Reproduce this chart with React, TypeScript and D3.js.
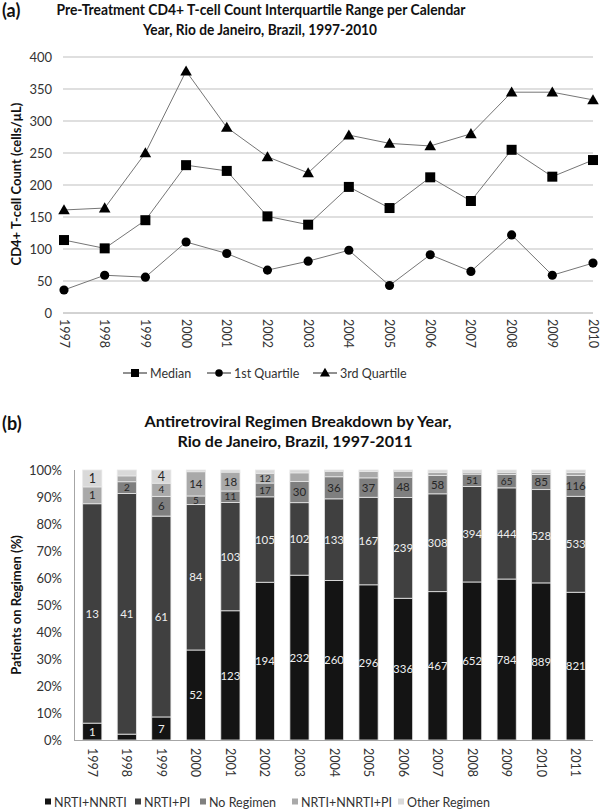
import React from "react";
import * as d3 from "d3";

// ---------- Panel (a) data ----------
const years1 = ["1997","1998","1999","2000","2001","2002","2003","2004","2005","2006","2007","2008","2009","2010"];
const medianValues = [114, 101, 145, 231, 222, 151, 138, 197, 164, 212, 175, 255, 213, 239];
const q1Values = [36, 59, 56, 111, 93, 67, 81, 98, 43, 91, 65, 122, 59, 78];
const q3Values = [161, 164, 250, 378, 290, 244, 219, 278, 265, 261, 280, 345, 345, 333];
const yTicks1 = [0, 50, 100, 150, 200, 250, 300, 350, 400];

// ---------- Panel (b) data ----------
const years2 = ["1997","1998","1999","2000","2001","2002","2003","2004","2005","2006","2007","2008","2009","2010","2011"];
const nrtiNnrti = [1, 1, 7, 52, 123, 194, 232, 260, 296, 336, 467, 652, 784, 889, 821];
const nrtiPi = [13, 41, 61, 84, 103, 105, 102, 133, 167, 239, 308, 394, 444, 528, 533];
const noRegimen = [0, 2, 6, 5, 11, 17, 30, 36, 37, 48, 58, 51, 65, 85, 116];
const nrtiNnrtiPi = [1, 1, 4, 14, 18, 12, 12, 9, 12, 14, 10, 8, 11, 13, 16];
const otherRegimen = [1, 1, 4, 1, 2, 4, 4, 2, 3, 3, 7, 9, 11, 13, 14];
const seriesNames = ["NRTI+NNRTI", "NRTI+PI", "No Regimen", "NRTI+NNRTI+PI", "Other Regimen"];
const yTicks2 = [0, 10, 20, 30, 40, 50, 60, 70, 80, 90, 100];
// cells whose value label is not printed in the original
const hiddenLabels = [
  "NRTI+NNRTI|1998",
  "No Regimen|1997",
  "NRTI+NNRTI+PI|1998", "NRTI+NNRTI+PI|2003", "NRTI+NNRTI+PI|2004", "NRTI+NNRTI+PI|2005",
  "NRTI+NNRTI+PI|2006", "NRTI+NNRTI+PI|2007", "NRTI+NNRTI+PI|2008", "NRTI+NNRTI+PI|2009",
  "NRTI+NNRTI+PI|2010", "NRTI+NNRTI+PI|2011",
  "Other Regimen|1998", "Other Regimen|2000", "Other Regimen|2001", "Other Regimen|2002",
  "Other Regimen|2003", "Other Regimen|2004", "Other Regimen|2005", "Other Regimen|2006",
  "Other Regimen|2007", "Other Regimen|2008", "Other Regimen|2009", "Other Regimen|2010",
  "Other Regimen|2011",
];

const FONT = "Lato, 'Open Sans', 'Noto Sans', sans-serif";
const seriesColors = ["#141414", "#404040", "#7f7f7f", "#a9a9a9", "#d9d9d9"];
const labelColors = ["#eeeeee", "#eeeeee", "#262626", "#262626", "#262626"];

export default function App() {
  const W = 600, H = 809;

  // ----- panel a scales -----
  const xA = d3.scalePoint<string>().domain(years1).range([64, 593]);
  const yA = d3.scaleLinear().domain([0, 400]).range([313, 57]);
  const line = d3.line<number>().x((_, i) => xA(years1[i])!).y((d) => yA(d));
  const sqr = d3.symbol().type(d3.symbolSquare).size(100)()!;
  const circ = d3.symbol().type(d3.symbolCircle).size(66)()!;
  const tri = d3.symbol().type(d3.symbolTriangle).size(58)()!;
  const seriesA = [
    { name: "Median", values: medianValues, sym: sqr },
    { name: "1st Quartile", values: q1Values, sym: circ },
    { name: "3rd Quartile", values: q3Values, sym: tri },
  ];
  const legendAX = [123, 207, 313];

  // ----- panel b scales -----
  const xB = d3.scaleBand<string>().domain(years2).range([75, 593]).paddingInner(0.445).paddingOuter(0.2225);
  const yB = d3.scaleLinear().domain([0, 100]).range([740, 470]);
  const rawSeries = [nrtiNnrti, nrtiPi, noRegimen, nrtiNnrtiPi, otherRegimen];
  const rows = years2.map((y, i) => {
    const row: any = { year: y };
    seriesNames.forEach((s, k) => (row[s] = rawSeries[k][i]));
    return row;
  });
  const stacked = d3.stack<any>().keys(seriesNames).offset(d3.stackOffsetExpand)(rows);
  const legendBX = [45, 135, 200, 292, 398];

  return (
    <svg width={W} height={H} style={{ display: "block", position: "absolute", left: 0, top: 0 }} fontFamily={FONT}>
      <rect width={W} height={H} fill="#fff" />
      {/* ================= PANEL A ================= */}
      <text x={2} y={17} fontSize={18} fontWeight="bold" fill="#111">(a)</text>
      <text x={261} y={15} fontSize={14.5} fontWeight="bold" textAnchor="middle" fill="#111"
        textLength={409} lengthAdjust="spacingAndGlyphs">Pre-Treatment CD4+ T-cell Count Interquartile Range per Calendar</text>
      <text x={260} y={35} fontSize={14.5} fontWeight="bold" textAnchor="middle" fill="#111"
        textLength={234} lengthAdjust="spacingAndGlyphs">Year, Rio de Janeiro, Brazil, 1997-2010</text>

      {yTicks1.map((t) => (
        <g key={t}>
          <line x1={63} x2={593} y1={yA(t)} y2={yA(t)} stroke={t === 0 ? "#a6a6a6" : "#bfbfbf"} strokeWidth={1} />
          <text x={52} y={yA(t) + 4.5} fontSize={13} textAnchor="end" fill="#333">{t}</text>
        </g>
      ))}
      <text transform={`translate(21,${184}) rotate(-90)`} fontSize={13} fontWeight="bold" textAnchor="middle" fill="#111">
        CD4+ T-cell Count (cells/µL)
      </text>
      {years1.map((y) => (
        <text key={y} transform={`translate(${xA(y)! - 4.5},${319}) rotate(90)`} fontSize={12.5} fill="#333">{y}</text>
      ))}
      {seriesA.map((s) => (
        <g key={s.name}>
          <path d={line(s.values)!} fill="none" stroke="#767676" strokeWidth={1} />
          {s.values.map((v, i) => (
            <path key={i} d={s.sym} transform={`translate(${xA(years1[i])},${yA(v) + (s.sym === tri ? 1 : 0)})`} fill="#000" />
          ))}
        </g>
      ))}
      {seriesA.map((s, k) => (
        <g key={s.name} transform={`translate(${legendAX[k]},373)`}>
          <line x1={0} x2={24} y1={0} y2={0} stroke="#222" strokeWidth={1} />
          <path d={d3.symbol().type(k === 0 ? d3.symbolSquare : k === 1 ? d3.symbolCircle : d3.symbolTriangle).size(k === 0 ? 64 : 44)()!}
            transform={`translate(12,${k === 2 ? 0.5 : 0})`} fill="#000" />
          <text x={27} y={4.5} fontSize={12.5} fill="#333">{s.name}</text>
        </g>
      ))}

      {/* ================= PANEL B ================= */}
      <text x={2} y={430} fontSize={18} fontWeight="bold" fill="#111">(b)</text>
      <text x={298} y={427} fontSize={14.5} fontWeight="bold" textAnchor="middle" fill="#111"
        textLength={307} lengthAdjust="spacingAndGlyphs">Antiretroviral Regimen Breakdown by Year,</text>
      <text x={295} y={447} fontSize={14.5} fontWeight="bold" textAnchor="middle" fill="#111"
        textLength={235} lengthAdjust="spacingAndGlyphs">Rio de Janeiro, Brazil, 1997-2011</text>

      {yTicks2.map((t) => (
        <text key={t} x={62} y={yB(t) + 4.5} fontSize={13} textAnchor="end" fill="#333">{t}%</text>
      ))}
      <text transform={`translate(21,${605}) rotate(-90)`} fontSize={13} fontWeight="bold" textAnchor="middle" fill="#111">
        Patients on Regimen (%)
      </text>

      {stacked.map((layer, k) => (
        <g key={layer.key}>
          {layer.map((d, i) => {
            const yr = years2[i];
            const y0 = yB(d[0] * 100), y1 = yB(d[1] * 100);
            const h = y0 - y1;
            if (h <= 0) return null;
            return (
              <rect key={yr} x={xB(yr)} y={y1} width={xB.bandwidth()} height={h}
                fill={seriesColors[k]} stroke="#e8e8e8" strokeWidth={0.8} />
            );
          })}
        </g>
      ))}
      {stacked.map((layer, k) => (
        <g key={layer.key + "-lbl"}>
          {layer.map((d, i) => {
            const yr = years2[i];
            const v = rawSeries[k][i];
            if (hiddenLabels.includes(`${layer.key}|${yr}`) || v === 0) return null;
            const yc = (yB(d[0] * 100) + yB(d[1] * 100)) / 2;
            const segH = yB(d[0] * 100) - yB(d[1] * 100);
            const fs = k === 4 ? 12.5 : segH < 15 ? 10 : 11.5;
            return (
              <text key={yr} x={xB(yr)! + xB.bandwidth() / 2} y={yc + fs * 0.36} fontSize={fs}
                textAnchor="middle" fill={labelColors[k]}>{v}</text>
            );
          })}
        </g>
      ))}
      <line x1={74.5} x2={74.5} y1={470} y2={740} stroke="#a6a6a6" strokeWidth={1} />
      <line x1={74} x2={593} y1={740.5} y2={740.5} stroke="#a6a6a6" strokeWidth={1} />
      {years2.map((y) => (
        <text key={y} transform={`translate(${xB(y)! + xB.bandwidth() / 2 - 4.5},${748}) rotate(90)`} fontSize={12.5} fill="#333">{y}</text>
      ))}
      {seriesNames.map((s, k) => (
        <g key={s} transform={`translate(${legendBX[k]},802)`}>
          <rect x={0} y={-3.5} width={6} height={6} fill={seriesColors[k]} />
          <text x={9} y={4.5} fontSize={12.5} fill="#333">{s}</text>
        </g>
      ))}
    </svg>
  );
}
